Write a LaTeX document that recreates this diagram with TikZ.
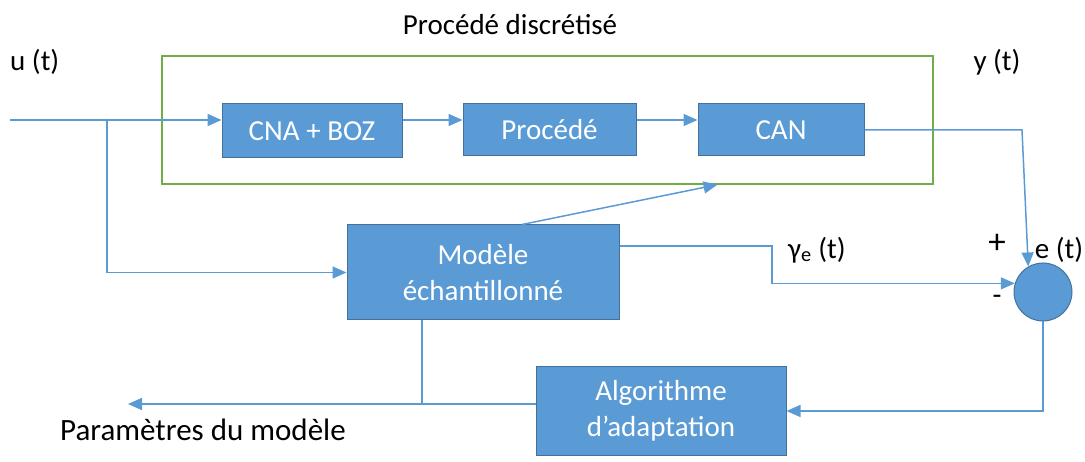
\documentclass[tikz,border=0pt]{standalone}
\usepackage{fontspec}
\setmainfont{Carlito}
\usetikzlibrary{arrows.meta,calc}
\definecolor{boxblue}{HTML}{5B9BD5}
\definecolor{boxedge}{HTML}{41719C}
\definecolor{framegreen}{HTML}{70AD47}
\begin{document}
\begin{tikzpicture}[x=1pt,y=-1pt,
  block/.style={draw=boxedge, fill=boxblue, line width=1pt, text=white,
    font=\fontsize{29}{36}\selectfont, align=center, inner sep=0pt},
  link/.style={draw=boxblue, line width=1.5pt},
  arr/.style={link, -{Triangle[length=14pt,width=12pt]}},
  lbl/.style={font=\fontsize{29}{34}\selectfont, inner sep=0pt}]
\useasboundingbox (0,0) rectangle (1085,462);

% discretised process frame
\node[draw=framegreen, line width=1.3pt, minimum width=771pt, minimum height=128pt, inner sep=0pt] (disc) at (547.5,120) {};

% blocks
\node[block, minimum width=180pt, minimum height=54pt] (cna) at (312,131) {CNA + BOZ};
\node[block, minimum width=173pt, minimum height=52pt] (proc) at (549.5,130) {Procédé};
\node[block, minimum width=166pt, minimum height=52pt] (can) at (781,130) {CAN};
\node[block, minimum width=272pt, minimum height=95pt] (mod) at (483,272.5) {Modèle\\échantillonné};
\node[block, minimum width=250pt, minimum height=88pt] (algo) at (661,411) {Algorithme\\d’adaptation};
\node[draw=boxedge, fill=boxblue, line width=1pt, circle, minimum size=58pt, inner sep=0pt] (sum) at (1043,292) {};

% labels
\node[lbl] (tdisc) at (510,25) {Procédé discrétisé};
\node[lbl, anchor=west] (tu) at (10,62) {u (t)};
\node[lbl] (ty) at (997,62) {y (t)};
\node[lbl, anchor=west] (tye) at (788,250) {γ\textsubscript{e} (t)};
\node[lbl, font=\fontsize{35}{40}\selectfont] (tplus) at (997,244) {+};
\node[lbl] (tminus) at (997,300) {-};
\node[lbl] (te) at (1059,250) {e (t)};
\node[lbl, anchor=west, font=\fontsize{31}{36}\selectfont] (tpar) at (60,430) {Paramètres du modèle};

% junction points
\coordinate (in) at (10,120);
\coordinate (branch) at (107,120);
\coordinate (ycorner) at (1022,130);
\coordinate (yebend) at (772,246);
\coordinate (pjoin) at (422,404);
\coordinate (pend) at (128,404);

% connectors
\draw[arr] (in) -- (in -| cna.west);
\draw[arr] (in -| cna.east) -- (in -| proc.west);
\draw[arr] (in -| proc.east) -- (in -| can.west);
\draw[arr] (branch) |- (mod.west);
\draw[arr] (can.east) -- (ycorner) -- (sum.120);
\draw[arr] ($(mod.north)+(39,0)$) -- ($(disc.south)+(170,0)$);
\draw[arr] ($(mod.east)+(0,-26.5)$) -- (yebend) |- (sum.163);
\draw[arr] (sum.south) |- (algo.east);
\draw[arr] (algo.west |- pjoin) -- (pend);
\draw[link] (mod.south -| pjoin) -- (pjoin);
\end{tikzpicture}
\end{document}
